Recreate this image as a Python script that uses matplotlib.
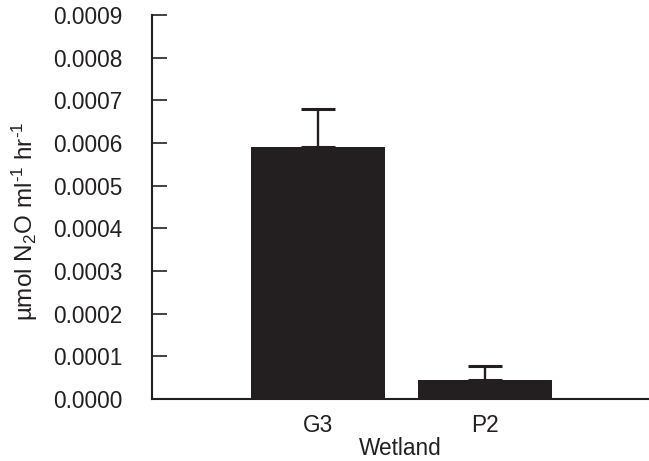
import matplotlib.pyplot as plt
import numpy as np

wetlands = ['G3', 'P2']
n2o_rate = [0.00059, 0.0000445]
n2o_se = [0.000091, 0.0000325]
yticks = [0.0, 0.0001, 0.0002, 0.0003, 0.0004, 0.0005, 0.0006, 0.0007, 0.0008, 0.0009]

plt.rcParams['font.family'] = ['Liberation Sans', 'DejaVu Sans']
plt.rcParams['mathtext.default'] = 'regular'
ink = '#231f20'

fig = plt.figure(figsize=(6.49, 4.61), dpi=100)
ax = fig.add_axes([0.234, 0.1345, 0.766, 0.8325])

x = np.arange(len(wetlands))
ax.bar(x, n2o_rate, width=0.8, color=ink, edgecolor='none')
ax.errorbar(x, n2o_rate, yerr=[np.zeros(len(x)), n2o_se], fmt='none',
            ecolor=ink, elinewidth=1.7, capsize=12.5, capthick=2.2)

ax.set_xlim(-0.994, 1.98)
ax.set_ylim(0, 0.0009)
ax.set_xticks(x)
ax.set_xticklabels(wetlands)
ax.set_yticks(yticks)
ax.set_yticklabels(['%.4f' % v for v in yticks])

for s in ['top', 'right']:
    ax.spines[s].set_visible(False)
for s in ['left', 'bottom']:
    ax.spines[s].set_color(ink)
    ax.spines[s].set_linewidth(1.5)

ax.tick_params(axis='y', direction='in', length=10.5, width=1.2, color=ink,
               pad=21, labelsize=16.3, labelcolor=ink)
ax.tick_params(axis='x', length=0, pad=11, labelsize=16.3, labelcolor=ink)

ax.set_xlabel('Wetland', size=16.3, color=ink, labelpad=0)
ax.set_ylabel('µmol N$_2$O ml$^{\u20101}$ hr$^{\u20101}$', size=17.5, color=ink)
ax.yaxis.set_label_coords(-0.226, 0.4635)

plt.savefig('out.png', dpi=100)
